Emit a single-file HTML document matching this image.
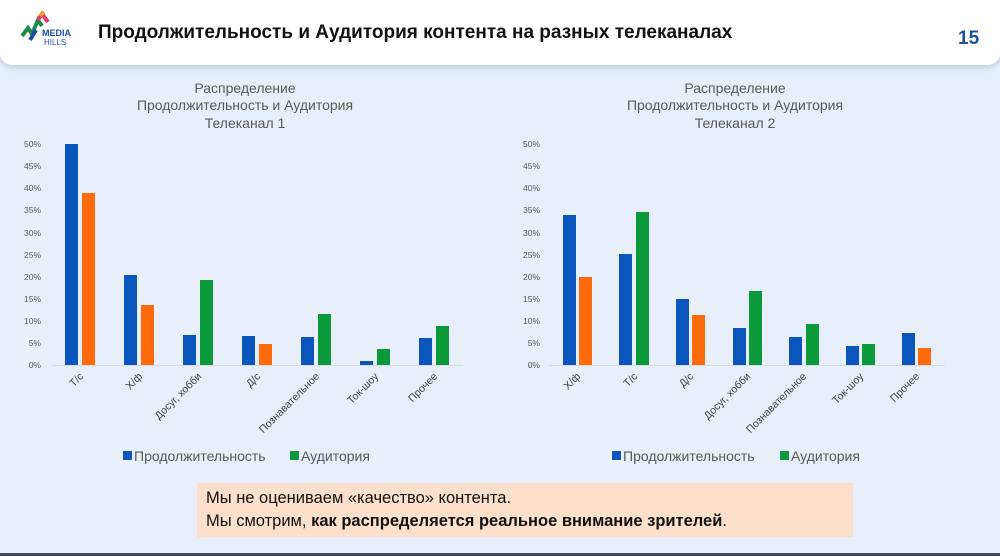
<!DOCTYPE html>
<html><head><meta charset="utf-8"><style>
body{margin:0;width:1000px;height:556px;background:#e8effa;font-family:"Liberation Sans","DejaVu Sans",sans-serif;overflow:hidden;position:relative}
.hdr{position:absolute;left:0;top:0;width:1000px;height:65px;background:#fff;border-radius:0 0 12px 12px;box-shadow:0 3px 6px rgba(120,140,180,.35)}
.title{position:absolute;left:98px;top:22px;font-size:19px;font-weight:bold;color:#111}
.num{position:absolute;left:958px;top:28px;font-size:19px;font-weight:bold;color:#1a4fa0}
.box{position:absolute;left:197px;top:483px;width:656px;height:54px;background:#fde0cc}
.box div{position:absolute;left:9px;font-size:16.5px;color:#111}
.bot{position:absolute;left:0;top:553px;width:1000px;height:3px;background:#444a55}
</style></head><body>
<div class="hdr"></div>
<svg style="position:absolute;left:20px;top:10px" width="60" height="40">
<path d="M2 26 L8 18 L12 24 L18 10 L22 16" stroke="#1a8a4a" stroke-width="4" fill="none"/>
<path d="M10 30 L16 20" stroke="#1a4fa0" stroke-width="4"/>
<path d="M18 10 L22 4 L28 12" stroke="#e53a6a" stroke-width="4" fill="none"/>
<path d="M20 6 L24 2" stroke="#f59a2a" stroke-width="4"/>
<text x="22" y="26" font-size="9" font-weight="bold" fill="#1a4fa0" font-family="Liberation Sans">MEDIA</text>
<text x="24" y="35" font-size="8" fill="#1a4fa0" font-family="Liberation Sans">HILLS</text>
</svg>
<div class="title">Продолжительность и Аудитория контента на разных телеканалах</div>
<div class="num">15</div>
<svg style="position:absolute;left:0;top:0" width="1000" height="556" font-family="Liberation Sans, sans-serif">
<g fill="#595959" font-size="14" text-anchor="middle">
<text x="245" y="93">Распределение</text><text x="245" y="110">Продолжительность и Аудитория</text><text x="245" y="128">Телеканал 1</text>
<text x="735" y="93">Распределение</text><text x="735" y="110">Продолжительность и Аудитория</text><text x="735" y="128">Телеканал 2</text>
</g>
<g fill="#595959" font-size="8.5" text-anchor="end">
<text x="41" y="368">0%</text><text x="41" y="346">5%</text><text x="41" y="324">10%</text><text x="41" y="302">15%</text><text x="41" y="280">20%</text><text x="41" y="258">25%</text><text x="41" y="236">30%</text><text x="41" y="213">35%</text><text x="41" y="191">40%</text><text x="41" y="169">45%</text><text x="41" y="147">50%</text>
<text x="540" y="368">0%</text><text x="540" y="346">5%</text><text x="540" y="324">10%</text><text x="540" y="302">15%</text><text x="540" y="280">20%</text><text x="540" y="258">25%</text><text x="540" y="236">30%</text><text x="540" y="213">35%</text><text x="540" y="191">40%</text><text x="540" y="169">45%</text><text x="540" y="147">50%</text>
</g>
<line x1="52" y1="365.5" x2="463" y2="365.5" stroke="#d5dbe5"/>
<line x1="549" y1="365.5" x2="945" y2="365.5" stroke="#d5dbe5"/>
<g>
<rect x="65" y="144" width="13" height="221" fill="#0a56bd"/><rect x="82" y="193" width="13" height="172" fill="#ff6a0a"/>
<rect x="124" y="275" width="13" height="90" fill="#0a56bd"/><rect x="141" y="305" width="13" height="60" fill="#ff6a0a"/>
<rect x="183" y="335" width="13" height="30" fill="#0a56bd"/><rect x="200" y="280" width="13" height="85" fill="#0a9a3a"/>
<rect x="242" y="336" width="13" height="29" fill="#0a56bd"/><rect x="259" y="344" width="13" height="21" fill="#ff6a0a"/>
<rect x="301" y="337" width="13" height="28" fill="#0a56bd"/><rect x="318" y="314" width="13" height="51" fill="#0a9a3a"/>
<rect x="360" y="361" width="13" height="4" fill="#0a56bd"/><rect x="377" y="349" width="13" height="16" fill="#0a9a3a"/>
<rect x="419" y="338" width="13" height="27" fill="#0a56bd"/><rect x="436" y="326" width="13" height="39" fill="#0a9a3a"/>

<rect x="563" y="215" width="13" height="150" fill="#0a56bd"/><rect x="579" y="277" width="13" height="88" fill="#ff6a0a"/>
<rect x="619" y="254" width="13" height="111" fill="#0a56bd"/><rect x="636" y="212" width="13" height="153" fill="#0a9a3a"/>
<rect x="676" y="299" width="13" height="66" fill="#0a56bd"/><rect x="692" y="315" width="13" height="50" fill="#ff6a0a"/>
<rect x="733" y="328" width="13" height="37" fill="#0a56bd"/><rect x="749" y="291" width="13" height="74" fill="#0a9a3a"/>
<rect x="789" y="337" width="13" height="28" fill="#0a56bd"/><rect x="806" y="324" width="13" height="41" fill="#0a9a3a"/>
<rect x="846" y="346" width="13" height="19" fill="#0a56bd"/><rect x="862" y="344" width="13" height="21" fill="#0a9a3a"/>
<rect x="902" y="333" width="13" height="32" fill="#0a56bd"/><rect x="918" y="348" width="13" height="17" fill="#ff6a0a"/>
</g>
<g fill="#404040" font-size="10.5" text-anchor="end">
<text transform="translate(84,377) rotate(-45)">Т/с</text>
<text transform="translate(143,377) rotate(-45)">Х/ф</text>
<text transform="translate(202,377) rotate(-45)">Досуг, хобби</text>
<text transform="translate(261,377) rotate(-45)">Д/с</text>
<text transform="translate(320,377) rotate(-45)">Познавательное</text>
<text transform="translate(379,377) rotate(-45)">Ток-шоу</text>
<text transform="translate(438,377) rotate(-45)">Прочее</text>
<text transform="translate(581,377) rotate(-45)">Х/ф</text>
<text transform="translate(638,377) rotate(-45)">Т/с</text>
<text transform="translate(694,377) rotate(-45)">Д/с</text>
<text transform="translate(751,377) rotate(-45)">Досуг, хобби</text>
<text transform="translate(807,377) rotate(-45)">Познавательное</text>
<text transform="translate(864,377) rotate(-45)">Ток-шоу</text>
<text transform="translate(920,377) rotate(-45)">Прочее</text>
</g>
<g font-size="14" fill="#595959">
<rect x="123" y="451" width="9" height="9" fill="#0a56bd"/><text x="134" y="461">Продолжительность</text>
<rect x="290" y="451" width="9" height="9" fill="#0a9a3a"/><text x="301" y="461">Аудитория</text>
<rect x="612" y="451" width="9" height="9" fill="#0a56bd"/><text x="623" y="461">Продолжительность</text>
<rect x="780" y="451" width="9" height="9" fill="#0a9a3a"/><text x="791" y="461">Аудитория</text>
</g>
</svg>
<div class="box"><div style="top:6px">Мы не оцениваем «качество» контента.</div><div style="top:29px">Мы смотрим, <b>как распределяется реальное внимание зрителей</b>.</div></div>
<div class="bot"></div>
</body></html>
